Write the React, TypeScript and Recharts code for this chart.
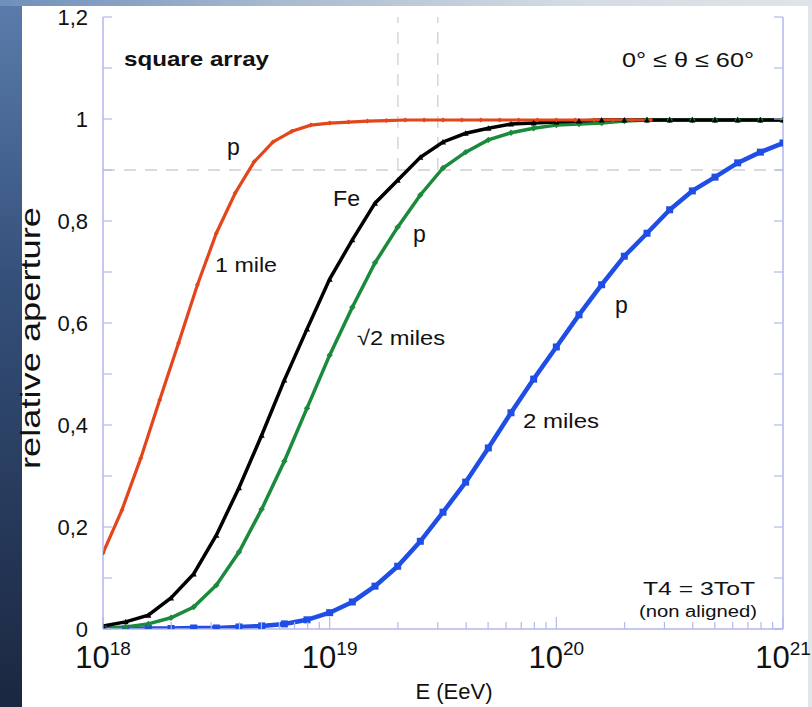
import React from 'react';
import { LineChart, Line, XAxis, YAxis, ReferenceLine } from 'recharts';

// log10(E / eV) sampling grids
const LOG_E_FINE = Array.from({ length: 30 }, (_, k) => 18 + k / 12);
const LOG_E = Array.from({ length: 31 }, (_, k) => 18 + k / 10);

// relative aperture, p at 1 mile spacing
const P_1_MILE = [
  0.149, 0.233, 0.335, 0.449, 0.561, 0.675, 0.776, 0.855, 0.916, 0.955,
  0.976, 0.988, 0.992, 0.994, 0.996, 0.997, 0.998, 0.998, 0.998, 0.998,
  0.998, 0.998, 0.998, 0.998, 0.998, 0.998, 0.998, 0.998, 0.998, 0.998,
];
// Fe at sqrt(2) miles
const FE_SQRT2 = [
  0.006, 0.014, 0.027, 0.061, 0.108, 0.184, 0.277, 0.380, 0.488, 0.588,
  0.686, 0.763, 0.835, 0.880, 0.925, 0.955, 0.972, 0.982, 0.990, 0.992,
  0.994, 0.996, 0.998, 0.998, 0.998, 0.998, 0.998, 0.998, 0.998, 0.998, 0.998,
];
// p at sqrt(2) miles
const P_SQRT2 = [
  0.002, 0.004, 0.010, 0.022, 0.043, 0.086, 0.151, 0.235, 0.329, 0.433,
  0.537, 0.631, 0.718, 0.788, 0.851, 0.904, 0.935, 0.959, 0.973, 0.982,
  0.988, 0.990, 0.992, 0.996, 0.998, 0.998, 0.998, 0.998, 0.998, 0.998, 0.998,
];
// p at 2 miles
const P_2_MILES = [
  0.000, 0.000, 0.001, 0.001, 0.002, 0.002, 0.004, 0.006, 0.010, 0.018,
  0.032, 0.053, 0.084, 0.123, 0.172, 0.229, 0.288, 0.355, 0.424, 0.490,
  0.553, 0.616, 0.675, 0.731, 0.776, 0.822, 0.859, 0.886, 0.914, 0.935, 0.953,
];

const X_TICKS = [
  1e18, 2e18, 3e18, 4e18, 5e18, 6e18, 7e18, 8e18, 9e18,
  1e19, 2e19, 3e19, 4e19, 5e19, 6e19, 7e19, 8e19, 9e19,
  1e20, 2e20, 3e20, 4e20, 5e20, 6e20, 7e20, 8e20, 9e20,
  1e21,
];
const Y_TICKS = [0, 0.1, 0.2, 0.3, 0.4, 0.5, 0.6, 0.7, 0.8, 0.9, 1, 1.1, 1.2];
const Y_LABELS: Record<string, string> = {
  '0': '0', '0.2': '0,2', '0.4': '0,4', '0.6': '0,6', '0.8': '0,8', '1': '1', '1.2': '1,2',
};

const toSeries = (logE: number[], values: number[]) =>
  values.map((v, i) => ({ e: Math.pow(10, logE[i]), v }));

const redData = toSeries(LOG_E_FINE, P_1_MILE);
const blackData = toSeries(LOG_E, FE_SQRT2);
const greenData = toSeries(LOG_E, P_SQRT2);
const blueData = toSeries(LOG_E, P_2_MILES);

const FONT = '"Liberation Sans", Arial, Helvetica, sans-serif';
const AXIS = '#b4b6ee';
const RED = '#e2461a';
const GREEN = '#1b8a3c';
const BLUE = '#1f4ee6';

const isDecade = (v: number) => Math.abs(Math.log10(v) - Math.round(Math.log10(v))) < 1e-6;

const BottomTick = (props: any) => {
  const { x, y, payload } = props;
  const major = isDecade(payload.value);
  const exp = Math.round(Math.log10(payload.value));
  return (
    <g>
      <line x1={x} x2={x} y1={y} y2={y - (major ? 12 : 7)} stroke={AXIS} strokeWidth={1.2} />
      {major && (
        <text x={x} y={y + 39} textAnchor="middle" fontFamily={FONT} fontSize={31} fill="#111">
          10
          <tspan dy={-13} fontSize={19}>{exp}</tspan>
        </text>
      )}
    </g>
  );
};

const TopTick = (props: any) => {
  const { x, y, payload } = props;
  const major = isDecade(payload.value);
  return <line x1={x} x2={x} y1={y} y2={y + (major ? 12 : 7)} stroke={AXIS} strokeWidth={1.2} />;
};

const LeftTick = (props: any) => {
  const { x, y, payload } = props;
  const label = Y_LABELS[String(Math.round(payload.value * 10) / 10)];
  return (
    <g>
      <line x1={x} x2={x + 9} y1={y} y2={y} stroke={AXIS} strokeWidth={1.2} />
      {label && (
        <text x={x - 15} y={y + 8} textAnchor="end" fontFamily={FONT} fontSize={22} fill="#111">
          {label}
        </text>
      )}
    </g>
  );
};

const RightTick = (props: any) => {
  const { x, y } = props;
  return <line x1={x} x2={x - 9} y1={y} y2={y} stroke={AXIS} strokeWidth={1.2} />;
};

const RedDot = (props: any) => {
  const { cx, cy, index } = props;
  if (cx == null || cy == null) return <g key={index} />;
  return <path key={index} d={`M${cx - 2.5},${cy}L${cx},${cy - 2.5}L${cx + 2.5},${cy}L${cx},${cy + 2.5}Z`} fill={RED} />;
};

const BlackDot = (props: any) => {
  const { cx, cy, index } = props;
  if (cx == null || cy == null) return <g key={index} />;
  return <path key={index} d={`M${cx - 3},${cy + 2.5}L${cx},${cy - 3}L${cx + 3},${cy + 2.5}Z`} fill="#000" />;
};

const GreenDot = (props: any) => {
  const { cx, cy, index } = props;
  if (cx == null || cy == null) return <g key={index} />;
  return <path key={index} d={`M${cx - 3.2},${cy}L${cx},${cy - 3.2}L${cx + 3.2},${cy}L${cx},${cy + 3.2}Z`} fill={GREEN} />;
};

const BlueDot = (props: any) => {
  const { cx, cy, index } = props;
  if (cx == null || cy == null) return <g key={index} />;
  return <rect key={index} x={cx - 3.5} y={cy - 3.5} width={7} height={7} fill={BLUE} />;
};

const Annotations = () => (
  <svg width={812} height={707} style={{ position: 'absolute', left: 0, top: 0, pointerEvents: 'none' }}>
    <g fontFamily={FONT} fill="#111">
      <text x={124} y={66} fontSize={21} fontWeight="bold" textLength={145} lengthAdjust="spacingAndGlyphs">
        square array
      </text>
      <text x={622} y={67} fontSize={21} textLength={132} lengthAdjust="spacingAndGlyphs">
        0° ≤ θ ≤ 60°
      </text>
      <text x={227} y={155} fontSize={23}>p</text>
      <text x={215} y={272} fontSize={21} textLength={62} lengthAdjust="spacingAndGlyphs">1 mile</text>
      <text x={333} y={206} fontSize={22} textLength={27} lengthAdjust="spacingAndGlyphs">Fe</text>
      <text x={413} y={242} fontSize={23}>p</text>
      <text x={357} y={345} fontSize={21} textLength={88} lengthAdjust="spacingAndGlyphs">√2 miles</text>
      <text x={615} y={313} fontSize={23}>p</text>
      <text x={523} y={428} fontSize={21} textLength={76} lengthAdjust="spacingAndGlyphs">2 miles</text>
      <text x={643} y={595} fontSize={19} textLength={112} lengthAdjust="spacingAndGlyphs">T4 = 3ToT</text>
      <text x={639} y={617} fontSize={16} textLength={118} lengthAdjust="spacingAndGlyphs">(non aligned)</text>
      <text x={454} y={699} fontSize={22} textAnchor="middle">E (EeV)</text>
      <text
        transform="translate(40, 338) rotate(-90)"
        fontSize={27}
        textAnchor="middle"
        textLength={262}
        lengthAdjust="spacingAndGlyphs"
      >
        relative aperture
      </text>
    </g>
  </svg>
);

export default function App() {
  return (
    <div
      style={{
        position: 'absolute',
        left: 0,
        top: 0,
        width: 812,
        height: 707,
        overflow: 'hidden',
        background: 'linear-gradient(to bottom, #5b7cab 0%, #34507a 40%, #1b2740 100%)',
      }}
    >
      <div
        style={{
          position: 'absolute',
          left: 0,
          top: 0,
          width: 812,
          height: 6,
          background: 'linear-gradient(to right, #6f8fbb 0%, #a9bbd0 35%, #d3dbe3 70%, #dfe4e9 100%)',
        }}
      />
      <div style={{ position: 'absolute', left: 22, top: 6, width: 786, height: 701, background: '#fff' }} />
      <div style={{ position: 'absolute', left: 808, top: 6, width: 4, height: 701, background: '#e2e6ea' }} />
      <div style={{ position: 'absolute', left: 0, top: 0 }}>
        <LineChart width={812} height={707} margin={{ top: 17, right: 0, bottom: 0, left: 0 }}>
          <XAxis
            xAxisId="bottom"
            type="number"
            dataKey="e"
            scale="log"
            domain={[1e18, 1e21]}
            ticks={X_TICKS}
            interval={0}
            height={78}
            tickSize={0}
            tickMargin={0}
            tick={<BottomTick />}
            axisLine={{ stroke: AXIS, strokeWidth: 1.5 }}
            allowDataOverflow
          />
          <XAxis
            xAxisId="top"
            orientation="top"
            type="number"
            dataKey="e"
            scale="log"
            domain={[1e18, 1e21]}
            ticks={X_TICKS}
            interval={0}
            height={0}
            tickSize={0}
            tickMargin={0}
            tick={<TopTick />}
            axisLine={{ stroke: AXIS, strokeWidth: 1.5 }}
            allowDataOverflow
          />
          <YAxis
            yAxisId="left"
            type="number"
            domain={[0, 1.2]}
            ticks={Y_TICKS}
            interval={0}
            width={103}
            tickSize={0}
            tickMargin={0}
            tick={<LeftTick />}
            axisLine={{ stroke: AXIS, strokeWidth: 1.5 }}
            allowDataOverflow
          />
          <YAxis
            yAxisId="right"
            orientation="right"
            type="number"
            domain={[0, 1.2]}
            ticks={Y_TICKS}
            interval={0}
            width={29}
            tickSize={0}
            tickMargin={0}
            tick={<RightTick />}
            axisLine={{ stroke: AXIS, strokeWidth: 1.5 }}
            allowDataOverflow
          />

          <ReferenceLine
            xAxisId="bottom"
            yAxisId="left"
            y={0.9}
            stroke="#cfcfcf"
            strokeWidth={1.3}
            strokeDasharray="12 9"
          />
          <ReferenceLine
            xAxisId="bottom"
            yAxisId="left"
            segment={[{ x: 2e19, y: 0.9 }, { x: 2e19, y: 1.2 }]}
            stroke="#cfcfcf"
            strokeWidth={1.3}
            strokeDasharray="12 9"
          />
          <ReferenceLine
            xAxisId="bottom"
            yAxisId="left"
            segment={[{ x: 3e19, y: 0.9 }, { x: 3e19, y: 1.2 }]}
            stroke="#cfcfcf"
            strokeWidth={1.3}
            strokeDasharray="12 9"
          />

          <Line
            xAxisId="bottom"
            yAxisId="left"
            data={blueData}
            dataKey="v"
            type="linear"
            stroke={BLUE}
            strokeWidth={4.5}
            dot={<BlueDot />}
            isAnimationActive={false}
          />
          <Line
            xAxisId="bottom"
            yAxisId="left"
            data={greenData}
            dataKey="v"
            type="linear"
            stroke={GREEN}
            strokeWidth={3.5}
            dot={<GreenDot />}
            isAnimationActive={false}
          />
          <Line
            xAxisId="bottom"
            yAxisId="left"
            data={blackData}
            dataKey="v"
            type="linear"
            stroke="#000"
            strokeWidth={3.5}
            dot={<BlackDot />}
            isAnimationActive={false}
          />
          <Line
            xAxisId="bottom"
            yAxisId="left"
            data={redData}
            dataKey="v"
            type="linear"
            stroke={RED}
            strokeWidth={3.2}
            dot={<RedDot />}
            isAnimationActive={false}
          />
        </LineChart>
      </div>
      <Annotations />
    </div>
  );
}
